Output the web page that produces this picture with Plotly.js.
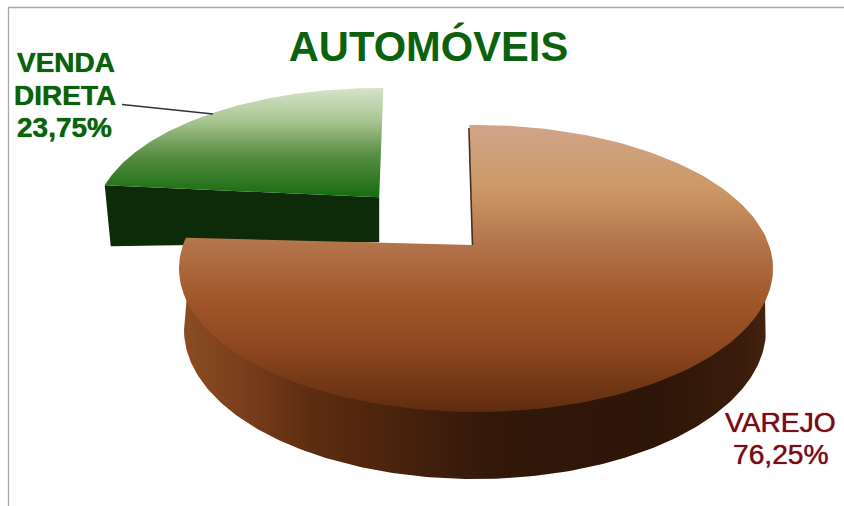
<!DOCTYPE html>
<html>
<head>
<meta charset="utf-8">
<script src="https://cdn.plot.ly/plotly-3.0.1.min.js"></script>
<style>html,body{margin:0;padding:0;background:#fff}</style>
</head>
<body>
<div id="chart" style="width:844px;height:506px"></div>
<script>
// Data
const chartTitle = "AUTOMÓVEIS";
const categories = ["VAREJO", "VENDA DIRETA"];
const shares = [76.25, 23.75];
const shareLabels = ["76,25%", "23,75%"];

// Perspective pie projection: a circle seen from an angle, whose centre falls at `e` above the ellipse centre
function arc(v, fromDeg, toDeg) {
  const xs = [], ys = [], n = 160;
  for (let i = 0; i <= n; i++) {
    const a = (fromDeg + (toDeg - fromDeg) * i / n) * Math.PI / 180;
    const sx = Math.sin(a), cy = Math.cos(a);
    const k = 1 + v.e * cy;
    xs.push(v.cx + v.rx * sx * Math.sqrt(1 - v.e * v.e) / k);
    ys.push(v.cy - v.ry * (cy + v.e) / k);
  }
  return {x: xs, y: ys};
}
const bigView = {cx: 476, cy: 268.5, rx: 297, ry: 143.5, e: 0.164};
const smallView = {cx: 379.2, cy: 221, rx: 285, ry: 133, e: 0.178};
const bigStart = -1.5, smallEnd = 1;

const bigSweep = shares[0] / 100 * 360;
const smallSweep = shares[1] / 100 * 360;
const bigArc = arc(bigView, bigStart, bigStart + bigSweep);
const smallArc = arc(smallView, smallEnd - smallSweep, smallEnd);
const bigApex = [bigView.cx - 4, bigView.cy - bigView.e * bigView.ry];
const smallApex = [smallView.cx, smallView.cy - smallView.e * smallView.ry];

// Lower rim of the big slice (an ellipse shifted down)
const rim = {x: [], y: []};
for (let d = 0; d <= 180; d += 1) {
  const a = d * Math.PI / 180;
  rim.x.push(475 + 291 * Math.cos(a));
  rim.y.push(330 + 149 * Math.sin(a));
}

const poly = (xs, ys, gradient, name) => ({
  type: "scatter", mode: "lines", x: xs, y: ys, fill: "toself",
  line: {width: 0}, fillgradient: gradient, hoverinfo: "skip", name: name, showlegend: false
});
const vGrad = (start, stop, colorscale) => ({type: "vertical", start, stop, colorscale});
const hGrad = (start, stop, colorscale) => ({type: "horizontal", start, stop, colorscale});

const L = [smallArc.x[0], smallArc.y[0]];
const traces = [
  // green slice: front wall then top face
  {
    type: "scatter", mode: "lines",
    x: [L[0], L[0] + 6, smallApex[0], smallApex[0], L[0]],
    y: [L[1], L[1] + 61, smallApex[1] + 45, smallApex[1], L[1]],
    fill: "toself", fillcolor: "#0d2b09", line: {width: 0}, hoverinfo: "skip", showlegend: false
  },
  poly([smallApex[0], ...smallArc.x, smallApex[0]], [smallApex[1], ...smallArc.y, smallApex[1]],
    vGrad(88, 197, [[0, "#d6e3ca"], [0.3, "#a9c592"], [0.62, "#568d42"], [1, "#176c10"]]), categories[1]),
  // brown slice: outer wall then top face
  poly([765, ...rim.x, 187, 765], [297, ...rim.y, 295, 297],
    hGrad(180, 770, [[0, "#8c4d25"], [0.1, "#7b3f1c"], [0.22, "#5e2d11"], [0.36, "#4a230c"], [0.52, "#33180a"], [0.8, "#2d1507"], [0.95, "#3a1c0c"], [1, "#442411"]]), categories[0]),
  poly([bigApex[0], ...bigArc.x, bigApex[0]], [bigApex[1], ...bigArc.y, bigApex[1]],
    vGrad(125, 412, [[0, "#cfa489"], [0.22, "#cc9966"], [0.42, "#b3734a"], [0.62, "#9f5528"], [0.78, "#8d471f"], [1, "#5f2c10"]]), categories[0]),
  // inner cut of the brown slice
  {
    type: "scatter", mode: "lines",
    x: [bigArc.x[0] - 0.5, bigApex[0] + 0.5], y: [bigArc.y[0] + 3, bigApex[1]],
    line: {color: "#4a2f1c", width: 1.6}, hoverinfo: "skip", showlegend: false
  },
  // leader line
  {
    type: "scatter", mode: "lines", x: [122, 213], y: [104.5, 114],
    line: {color: "#333333", width: 1.4}, hoverinfo: "skip", showlegend: false
  }
];

const green = "#0c620c", red = "#7a0c16";
const label = (text, x, y, color, size, bold) => ({
  text: bold ? "<b>" + text + "</b>" : text,
  x, y, xref: "x", yref: "y", showarrow: false, xanchor: "center", yanchor: "middle",
  font: {family: "Liberation Sans, Arial, sans-serif", size, color, shadow: "0 0 1px " + color}
});
const smallWords = categories[1].split(" ");

const layout = {
  width: 844, height: 506,
  margin: {l: 0, r: 0, t: 0, b: 0},
  paper_bgcolor: "#ffffff", plot_bgcolor: "#ffffff",
  showlegend: false,
  title: {
    text: "<b>" + chartTitle + "</b>",
    x: 428.5 / 844, xref: "paper", xanchor: "center",
    y: 1 - 46.5 / 506, yref: "paper", yanchor: "middle",
    font: {family: "Liberation Sans, Arial, sans-serif", size: 41.7, color: green}
  },
  xaxis: {range: [0, 844], visible: false, fixedrange: true},
  yaxis: {range: [506, 0], visible: false, fixedrange: true},
  shapes: [
    {type: "line", xref: "x", yref: "y", x0: 8, x1: 844, y0: 7.5, y1: 7.5, line: {color: "#a8a8a8", width: 1.3}},
    {type: "line", xref: "x", yref: "y", x0: 8.5, x1: 8.5, y0: 7, y1: 506, line: {color: "#a8a8a8", width: 1.3}}
  ],
  annotations: [
    label(smallWords[0], 66, 62.5, green, 28, true),
    label(smallWords[1], 65, 95, green, 28, true),
    label(shareLabels[1], 64, 127.5, green, 28, true),
    label(categories[0], 780.5, 422, red, 28.2, false),
    label(shareLabels[0], 781, 453.5, red, 28.2, false)
  ]
};
Plotly.newPlot("chart", traces, layout, {displayModeBar: false, staticPlot: true});
</script>
</body>
</html>
